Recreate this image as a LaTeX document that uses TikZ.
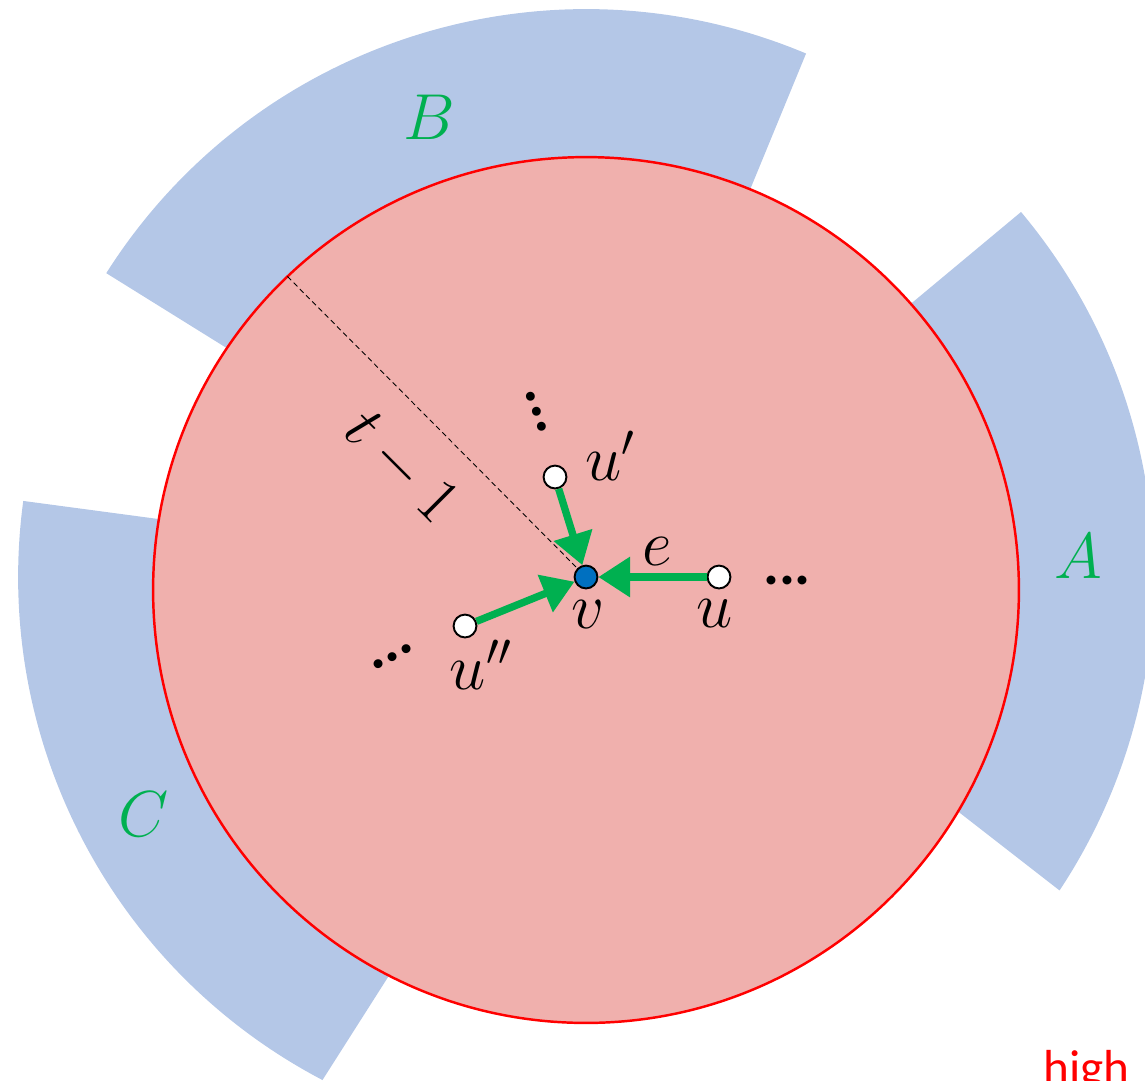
\RequirePackage{fix-cm}
\documentclass[tikz,border=0pt]{standalone}
\usepackage{fontspec}
\newfontfamily\carlito{Carlito}
\usetikzlibrary{arrows.meta,calc}
\definecolor{sectorblue}{HTML}{B4C7E7}
\definecolor{diskpink}{HTML}{F0B0AD}
\definecolor{arrowgreen}{HTML}{00B050}
\definecolor{nodeblue}{HTML}{0070C0}
\begin{document}
\begin{tikzpicture}[x=0.02cm,y=-0.02cm,
  sectorfill/.style={fill=sectorblue},
  disk/.style={draw=red,line width=1.4pt,fill=diskpink},
  vertexdot/.style={circle,draw=black,line width=1.1pt,fill=white,minimum size=13pt,inner sep=0pt},
  garrow/.style={draw=arrowgreen,line width=4.2pt,-{Triangle[length=18pt,width=22pt]}},
  lab/.style={font=\fontsize{37}{40}\selectfont,inner sep=0pt},
  glab/.style={lab,text=arrowgreen,anchor=base},
  dotsty/.style={font=\carlito\bfseries\fontsize{34}{36}\selectfont,inner sep=0pt,anchor=south}]
\useasboundingbox (0,0) rectangle (1145,1080);
\coordinate (sc) at (586,577);
\coordinate (cc) at (586,590);
% sectors
\fill[sectorfill] ($(sc)+(40:11.36cm)$) arc[start angle=40,end angle=-33.5,radius=11.36cm] -- (861,736) -- (805,392) -- cycle;
\fill[sectorfill] ($(sc)+(67.2:11.36cm)$) arc[start angle=67.2,end angle=147.65,radius=11.36cm] -- (344,421) -- (696,321) -- cycle;
\fill[sectorfill] ($(sc)+(172.3:11.36cm)$) arc[start angle=172.3,end angle=242.35,radius=11.36cm] -- (453,875) -- (293,537) -- cycle;
% disk
\draw[disk] (cc) circle[radius=8.66cm];
\coordinate (rimpt) at ($(cc)+(133.6:8.66cm)$);
% vertices
\node[vertexdot,fill=nodeblue] (v) at (586,577) {};
\node[vertexdot] (u1) at (555,477) {};
\node[vertexdot] (u) at (719,577) {};
\node[vertexdot] (u2) at (465,626) {};
% radius
\draw[dash pattern=on 3pt off 2pt,line width=0.5pt] (rimpt) -- (v);
% arrows
\draw[garrow] (u1) -- (v);
\draw[garrow] (u) -- (v);
\draw[garrow] (u2) -- (v);
% labels
\node[lab,anchor=base west] (lu1) at (585,480) {$u'$};
\node[lab,anchor=base] (le) at (657,565) {$e$};
\node[lab,anchor=base] (lv) at (588,628) {$v$};
\node[lab,anchor=base] (lu) at (715,627) {$u$};
\node[lab,anchor=base] (lu2) at (481,689) {$u''$};
\node[lab,rotate=-45] (lt) at (401,467) {$t-1$};
\node[glab] (lA) at (1078,578) {$A$};
\node[glab] (lB) at (429,139) {$B$};
\node[glab] (lC) at (144,836) {$C$};
% dots
\node[dotsty,rotate=-71] (d1) at (532,413) {...};
\node[dotsty] (d2) at (787,585) {...};
\node[dotsty,rotate=29] (d3) at (395,661) {...};
% cut-off text
\node[anchor=base west,text=red,font=\carlito\fontsize{28}{30}\selectfont,inner sep=0pt] (hi) at (1043,1084) {high};
\end{tikzpicture}
\end{document}
